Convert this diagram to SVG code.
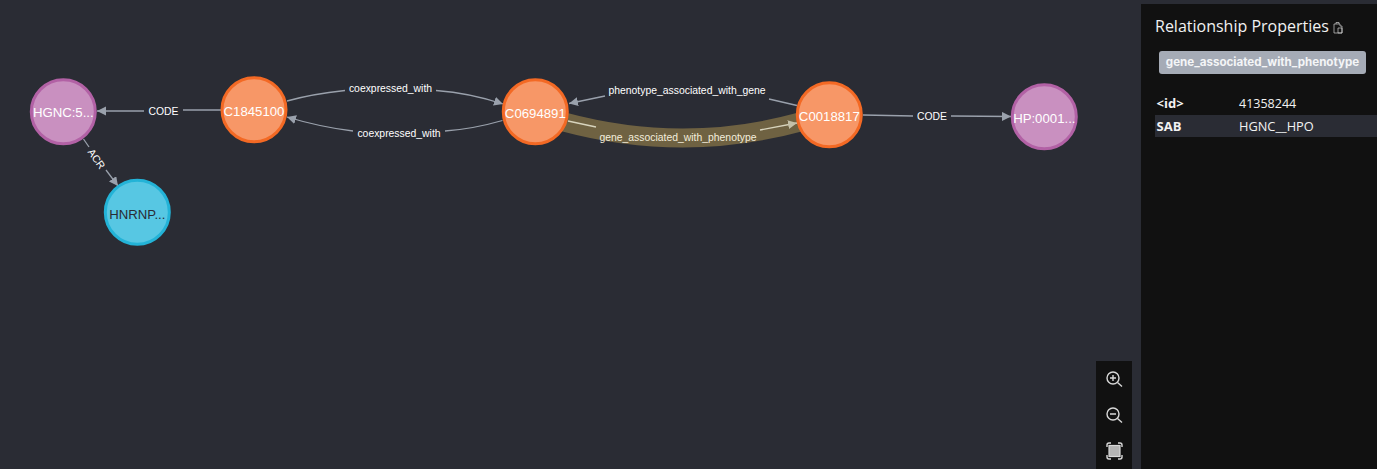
<svg xmlns="http://www.w3.org/2000/svg" width="1377" height="469" viewBox="0 0 1377 469">
<style>
.e{fill:none;stroke:#9aa1ac;stroke-width:1.3}
.h{fill:none;stroke:#d8d4bd;stroke-width:1.3}
.l{font:10.400px "Liberation Sans",Arial,sans-serif;fill:#fff;text-anchor:middle}
.n{stroke-width:3}
.t{font:13.200px "Liberation Sans",Arial,sans-serif;fill:#fff;text-anchor:middle}
.o{fill:#f79767;stroke:#f36924}
.p{fill:#c990c0;stroke:#b261a5}
.b{fill:#57c7e3;stroke:#23b3d7}
.s{font-family:"Open Sans","Noto Sans",sans-serif;fill:#f2f2f2}
.i{fill:none;stroke:#d8d8d8;stroke-width:1.4}
</style>
<defs>
<marker id="a" markerUnits="userSpaceOnUse" markerWidth="10" markerHeight="10" refX="9" refY="4.5" orient="auto"><path d="M0 0L9 4.5L0 9z" fill="#9aa1ac"/></marker>
<marker id="m" markerUnits="userSpaceOnUse" markerWidth="10" markerHeight="10" refX="9" refY="4.5" orient="auto"><path d="M0 0L9 4.5L0 9z" fill="#c4c0a8"/></marker>
</defs>
<rect width="1377" height="469" fill="#2a2c34"/>
<g id="connectors">
<path d="M564 122Q683 154 800 122" fill="none" stroke="#6f6242" stroke-width="19"/>
<path class="e" d="M221 110H183"/><path class="e" d="M144 111H97" marker-end="url(#a)"/>
<path class="e" d="M83.500 139L89 147"/><path class="e" d="M106 170L118 186" marker-end="url(#a)"/>
<path class="e" d="M287 101Q312 94 345 90.500"/><path class="e" d="M436 90.500Q470 93 503 104" marker-end="url(#a)"/>
<path class="e" d="M502.500 120.500Q473 129 445 131"/><path class="e" d="M353 131Q320 127 287 117" marker-end="url(#a)"/>
<path class="e" d="M605 96L569 103.500" marker-end="url(#a)"/><path class="e" d="M769 99L797 105.500"/>
<path class="h" d="M568 121L596 127"/><path class="h" d="M760 130L797 123" marker-end="url(#m)"/>
<path class="e" d="M863 115L913 116"/><path class="e" d="M951 116L1011 116.500" marker-end="url(#a)"/>
<text class="l" x="163.500" y="114.500">CODE</text>
<text class="l" transform="translate(96.500 159) rotate(55)" y="3.500">ACR</text>
<text class="l" x="390.500" y="92">coexpressed_with</text>
<text class="l" x="399" y="137">coexpressed_with</text>
<text class="l" x="687" y="93.500">phenotype_associated_with_gene</text>
<text class="l" x="678" y="140.500" style="fill:#f3eedc">gene_associated_with_phenotype</text>
<text class="l" x="932" y="119.500">CODE</text>
</g>
<g id="node-hgnc"><circle class="n p" cx="63.300" cy="111.700" r="32"/><text class="t" x="63.300" y="117">HGNC:5...</text></g>
<g id="node-c1845100"><circle class="n o" cx="254" cy="109.700" r="32"/><text class="t" x="254" y="115.500">C1845100</text></g>
<g id="node-hnrnp"><circle class="n b" cx="137.300" cy="212.300" r="32"/><text class="t" style="fill:#2a2c34" x="137.300" y="219">HNRNP...</text></g>
<g id="node-c0694891"><circle class="n o" cx="535.300" cy="111.700" r="32"/><text class="t" x="535.300" y="118">C0694891</text></g>
<g id="node-c0018817"><circle class="n o" cx="829.300" cy="114.700" r="32"/><text class="t" x="829.300" y="121">C0018817</text></g>
<g id="node-hp"><circle class="n p" cx="1044.300" cy="116.700" r="32"/><text class="t" x="1044.300" y="122.500">HP:0001...</text></g>
<g id="zoom-controls">
<rect x="1096" y="361" width="36" height="108" fill="#111"/>
<circle class="i" cx="1113" cy="378" r="6"/><path class="i" d="M1117.500 382.500L1122 386.500M1110 378H1116M1113 375V381"/>
<circle class="i" cx="1113" cy="414" r="6"/><path class="i" d="M1117.500 418.500L1122 422.500M1110 414H1116"/>
<rect x="1109" y="445.500" width="11" height="11" fill="#b4b4b4" stroke="#d8d8d8" stroke-width="1.200"/><path class="i" d="M1107 447V445Q1107 443 1109 443H1111M1118 443H1120Q1122 443 1122 445V447M1122 455V457Q1122 459 1120 459H1118M1111 459H1109Q1107 459 1107 457V455"/>
</g>
<g id="panel">
<rect x="1141" y="4" width="236" height="465" fill="#111"/>
<text class="s" x="1155" y="32" font-size="16">Relationship Properties</text>
<path d="M1334 24V33H1342V26H1340V24zM1336 24V22.500H1339V24M1338 28H1342V33H1338z" fill="none" stroke="#cfcfcf" stroke-width=".7"/>
<rect x="1159" y="51" width="207" height="23" rx="3" fill="#a5abb6"/>
<text x="1262.500" y="66" font-size="11.600" font-weight="700" text-anchor="middle" font-family="Inter,'Liberation Sans',sans-serif" fill="#f4f5f7">gene_associated_with_phenotype</text>
<rect x="1155" y="115" width="222" height="22" fill="#2a2c34"/>
<text class="s" x="1156.500" y="108" font-size="13" font-weight="700">&lt;id&gt;</text>
<text class="s" x="1239" y="108" font-size="12.500">41358244</text>
<text class="s" x="1156.500" y="131" font-size="13" font-weight="700">SAB</text>
<text class="s" x="1239" y="131" font-size="12.800">HGNC__HPO</text>
</g>
</svg>
